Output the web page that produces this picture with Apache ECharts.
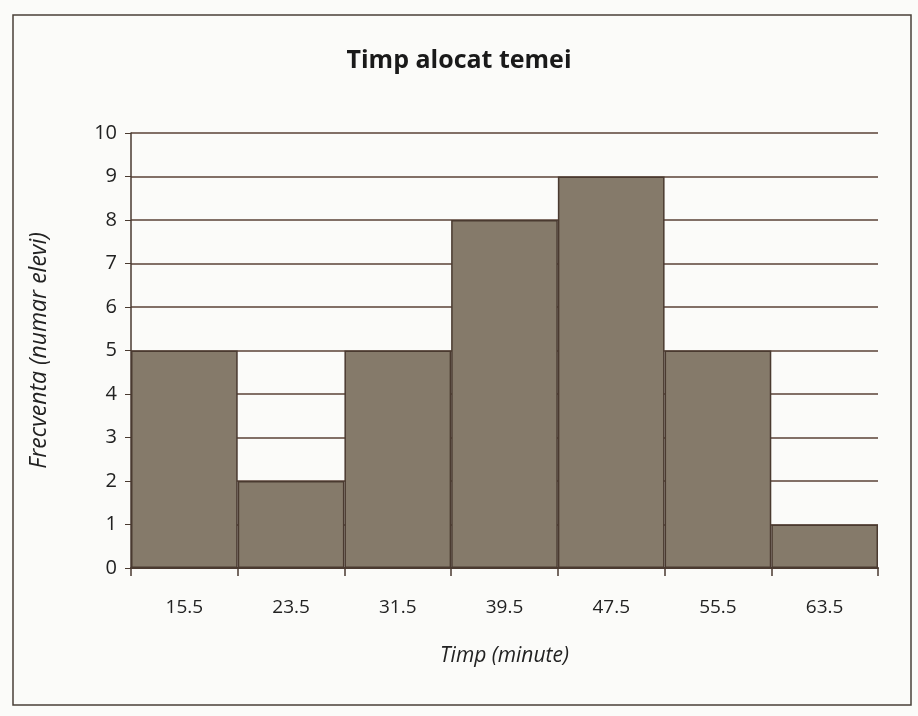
<!DOCTYPE html>
<html><head><meta charset="utf-8">
<script src="https://cdn.jsdelivr.net/npm/echarts@6/dist/echarts.min.js"></script>
<style>html,body{margin:0;padding:0;background:#fbfbf9}#c{width:918px;height:716px}</style>
</head><body><div id="c"></div>
<script>
const categories = ['15.5','23.5','31.5','39.5','47.5','55.5','63.5'];
const frequency = [5, 2, 5, 8, 9, 5, 1];
const yTicks = [0,1,2,3,4,5,6,7,8,9,10];

const chart = echarts.init(document.getElementById('c'));
chart.setOption({
  backgroundColor: '#fbfbf9',
  animation: false,
  graphic: [{type:'rect', shape:{x:13,y:15,width:898,height:690}, style:{fill:'none', stroke:'#4a4038', lineWidth:1.5}}],
  title: {text:'Timp alocat temei', left:'center', top:43,
    textStyle:{fontFamily:'Open Sans', fontWeight:'bold', fontSize:25, color:'#1a1a1a'}},
  grid: {left:131, right:40, top:133, bottom:148},
  xAxis: {type:'category', data:categories, boundaryGap:true,
    name:'Timp (minute)', nameLocation:'middle', nameGap:78,
    nameTextStyle:{fontFamily:'Open Sans', fontStyle:'italic', fontSize:21, color:'#222'},
    axisLine:{lineStyle:{color:'#4a3a30', width:2}},
    axisTick:{show:true, length:8, lineStyle:{color:'#4a3a30', width:1.5}},
    axisLabel:{fontFamily:'Open Sans', fontSize:19, fontWeight:500, color:'#222', margin:30}},
  yAxis: {type:'value', min:0, max:10, interval:1,
    name:'Frecventa (numar elevi)', nameLocation:'middle', nameGap:80, nameRotate:90,
    nameTextStyle:{fontFamily:'Open Sans', fontStyle:'italic', fontSize:23, color:'#222'},
    axisLine:{show:true, lineStyle:{color:'#4a3a30', width:1.5}},
    axisTick:{show:true, length:6, lineStyle:{color:'#4a3a30'}},
    axisLabel:{fontFamily:'Open Sans', fontSize:20, fontWeight:500, color:'#222', margin:14,
      formatter: v => yTicks.includes(v) ? String(v) : ''},
    splitLine:{lineStyle:{color:'#5a4236', width:1.5}}},
  series: [{type:'bar', data:frequency, barCategoryGap:'0%',
    itemStyle:{color:'#857a6a', borderColor:'#4a3a30', borderWidth:1.5}}]
});
</script></body></html>
